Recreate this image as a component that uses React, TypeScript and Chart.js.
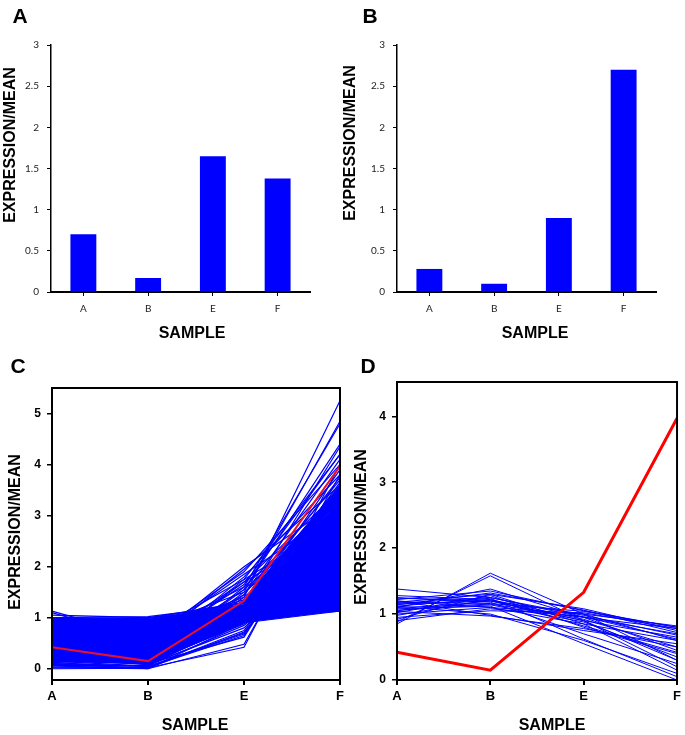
import React, { useEffect, useRef } from 'react';
import { Chart, registerables } from 'chart.js';

Chart.register(...registerables);

// ---------- data ----------
const SAMPLES = ['A', 'B', 'E', 'F'];
const BAR_A = [0.7, 0.17, 1.65, 1.38];
const BAR_B = [0.28, 0.1, 0.9, 2.7];
const RED_PROFILE = [0.42, 0.15, 1.33, 3.97];

// dense core of the panel C profiles (lower / upper edge of the solid band)
const C_BAND_BOTTOM = [0.15, 0.1, 0.9, 1.13];
const C_BAND_TOP = [1.0, 0.98, 1.25, 3.3];
// dense upper wedge between E and F
const C_BAND2_BOTTOM = [null, null, 1.25, 3.3];
const C_BAND2_TOP = [null, null, 1.35, 3.6];

// individual profiles of panel C (values at A, B, E, F)
const C_LINES = [
  [1.13, 0.6, 1.1, 1.6],
  [1.1, 0.55, 1.2, 2.0],
  [1.05, 1.0, 1.3, 2.3],
  [1.0, 1.02, 1.25, 1.8],
  [0.98, 1.0, 1.15, 1.4],
  [0.95, 0.99, 1.28, 2.7],
  [0.6, 0.5, 2.0, 3.3],
  [0.7, 0.45, 1.95, 3.6],
  [0.5, 0.6, 1.9, 4.0],
  [0.8, 0.55, 1.85, 3.1],
  [0.4, 0.3, 1.8, 3.8],
  [0.9, 0.7, 1.75, 2.9],
  [0.3, 0.35, 1.7, 3.5],
  [0.55, 0.4, 1.65, 4.2],
  [0.65, 0.65, 1.6, 3.4],
  [0.85, 0.8, 1.5, 3.0],
  [0.3, 0.15, 1.4, 5.25],
  [0.2, 0.1, 1.5, 4.85],
  [0.25, 0.12, 1.6, 4.8],
  [0.35, 0.2, 1.55, 4.4],
  [0.15, 0.1, 1.3, 4.35],
  [0.45, 0.25, 1.75, 4.2],
  [0.2, 0.15, 1.45, 4.1],
  [0.3, 0.2, 1.2, 3.9],
  [0.1, 0.05, 1.35, 3.75],
  [0.4, 0.18, 1.1, 3.65],
  [0.05, 0.02, 0.42, 4.0],
  [0.1, 0.0, 0.48, 3.8],
  [0.02, 0.03, 0.65, 3.5],
  [0.15, 0.05, 0.7, 3.2],
  [0.08, 0.02, 0.75, 3.0],
  [0.2, 0.08, 0.8, 2.6],
  [0.12, 0.04, 0.68, 3.3],
  [0.06, 0.06, 0.85, 2.4],
  [0.0, 0.01, 0.72, 2.8],
  [0.18, 0.1, 0.62, 3.6],
  [0.9, 0.8, 1.0, 1.13],
  [0.7, 0.6, 1.02, 1.15],
  [0.5, 0.5, 0.98, 1.2],
  [0.35, 0.28, 0.95, 1.25],
  [0.02, 0.0, 0.9, 2.1],
  [0.08, 0.05, 1.0, 1.7],
  [0.22, 0.12, 0.88, 2.2],
  [0.12, 0.2, 1.05, 1.9],
  [0.25, 0.08, 0.92, 2.5],
  [0.75, 0.72, 1.4, 3.0],
  [0.6, 0.85, 1.35, 2.6],
  [0.45, 0.55, 1.25, 3.45],
  [0.5, 0.35, 1.55, 3.2],
  [0.65, 0.5, 1.7, 2.8],
  [0.35, 0.45, 1.45, 3.7],
];

// individual profiles of panel D (values at A, B, E, F)
const D_LINES = [
  [1.38, 1.25, 0.95, 0.45],
  [0.85, 1.62, 1.0, 0.3],
  [0.88, 1.58, 0.9, 0.2],
  [1.22, 1.35, 1.05, 0.8],
  [1.18, 1.3, 1.08, 0.75],
  [1.15, 1.2, 1.0, 0.82],
  [1.1, 1.15, 0.95, 0.7],
  [1.05, 1.2, 0.9, 0.65],
  [1.0, 1.1, 0.85, 0.6],
  [0.95, 1.05, 1.02, 0.78],
  [1.2, 0.98, 0.75, 0.55],
  [1.12, 1.0, 0.6, 0.1],
  [1.08, 1.12, 0.55, 0.0],
  [1.25, 1.18, 0.7, 0.25],
  [1.02, 1.28, 0.8, 0.4],
  [0.98, 1.22, 0.92, 0.5],
  [1.14, 1.32, 1.06, 0.72],
  [1.16, 1.25, 0.98, 0.68],
  [1.06, 1.14, 0.88, 0.35],
  [1.2, 1.1, 1.0, 0.6],
  [0.92, 1.3, 0.85, 0.15],
  [1.1, 1.38, 0.95, 0.78],
  [1.28, 1.22, 0.82, 0.42],
  [1.04, 0.97, 0.78, 0.5],
  [1.18, 1.16, 1.04, 0.8],
  [0.9, 1.08, 0.96, 0.62],
  [1.12, 1.24, 0.62, 0.05],
  [1.24, 1.2, 0.9, 0.3],
];

const BLUE = '#0000ff';
const ARIAL = '"Liberation Sans", Arial, sans-serif';
const SMALL_FONT = 'Lato, "Open Sans", sans-serif';

// ---------- helpers ----------
const boxPlugin = {
  id: 'plotBox',
  afterDraw(chart: any) {
    const { ctx, chartArea } = chart;
    ctx.save();
    ctx.strokeStyle = '#000';
    ctx.lineWidth = 2;
    ctx.strokeRect(chartArea.left, chartArea.top, chartArea.right - chartArea.left, chartArea.bottom - chartArea.top);
    ctx.restore();
  },
};

function barConfig(values: number[], padRight: number, axisWidth: number) {
  return {
    type: 'bar',
    data: {
      labels: SAMPLES,
      datasets: [
        {
          data: values,
          backgroundColor: BLUE,
          borderWidth: 0,
          barPercentage: 0.4,
          categoryPercentage: 1,
        },
      ],
    },
    options: {
      animation: false,
      responsive: false,
      devicePixelRatio: 1,
      layout: { padding: { left: 0, top: 45, right: padRight, bottom: 0 } },
      plugins: { legend: { display: false }, tooltip: { enabled: false } },
      scales: {
        x: {
          offset: true,
          grid: { display: true, offset: false, drawOnChartArea: false, tickLength: 4, color: '#000', lineWidth: 1 },
          border: { display: true, color: '#000', width: 2 },
          ticks: { font: { family: SMALL_FONT, size: 10 }, color: '#222', padding: 7, maxRotation: 0, autoSkip: false },
          afterFit: (s: any) => {
            s.height = 53;
          },
        },
        y: {
          min: 0,
          max: 3,
          grid: { display: true, drawOnChartArea: false, tickLength: 4, color: '#000', lineWidth: 1 },
          border: { display: true, color: '#000', width: 1.5 },
          ticks: {
            stepSize: 0.5,
            font: { family: SMALL_FONT, size: 10 },
            color: '#222',
            padding: 8,
            callback: (v: any) => String(Math.round(Number(v) * 10) / 10),
          },
          afterFit: (s: any) => {
            s.width = axisWidth;
          },
        },
      },
    },
  };
}

function lineDatasets(lines: number[][], width: number) {
  return lines.map((vals) => ({
    data: vals,
    borderColor: BLUE,
    borderWidth: width,
    pointRadius: 0,
    tension: 0,
    fill: false,
    order: 1,
  }));
}

function bandDataset(values: (number | null)[], fill: any) {
  return {
    data: values,
    borderColor: BLUE,
    borderWidth: 1,
    backgroundColor: BLUE,
    pointRadius: 0,
    tension: 0,
    spanGaps: false,
    fill,
    order: 2,
  };
}

function profileConfig(
  datasets: any[],
  yMin: number,
  yMax: number,
  padTop: number,
  padRight: number,
  axisWidth: number
) {
  return {
    type: 'line',
    data: { labels: SAMPLES, datasets },
    options: {
      animation: false,
      responsive: false,
      devicePixelRatio: 1,
      layout: { padding: { left: 0, top: padTop, right: padRight, bottom: 0 } },
      plugins: { legend: { display: false }, tooltip: { enabled: false } },
      scales: {
        x: {
          type: 'category',
          offset: false,
          grid: { display: true, drawOnChartArea: false, tickLength: 5, color: '#000', lineWidth: 2 },
          border: { display: true, color: '#000', width: 2 },
          ticks: {
            font: { family: ARIAL, size: 13, weight: 'bold' },
            color: '#000',
            padding: 4,
            maxRotation: 0,
            autoSkip: false,
          },
          afterFit: (s: any) => {
            s.height = 55;
          },
        },
        y: {
          min: yMin,
          max: yMax,
          grid: { display: true, drawOnChartArea: false, tickLength: 5, color: '#000', lineWidth: 1.5 },
          border: { display: true, color: '#000', width: 2 },
          ticks: {
            stepSize: 1,
            includeBounds: false,
            font: { family: ARIAL, size: 12, weight: 'bold' },
            color: '#000',
            padding: 6,
          },
          afterFit: (s: any) => {
            s.width = axisWidth;
          },
        },
      },
    },
    plugins: [boxPlugin],
  };
}

function ChartCanvas({ config, left, top, width, height }: any) {
  const ref = useRef<HTMLCanvasElement>(null);
  useEffect(() => {
    if (!ref.current) return;
    const chart = new Chart(ref.current, config);
    return () => chart.destroy();
  }, [config]);
  return (
    <canvas
      ref={ref}
      width={width}
      height={height}
      style={{ position: 'absolute', left, top, width, height }}
    />
  );
}

function Label({ text, x, y, size, rotate, weight }: any) {
  return (
    <div
      style={{
        position: 'absolute',
        left: x,
        top: y,
        transform: `translate(-50%, -50%)${rotate ? ' rotate(-90deg)' : ''}`,
        font: `${weight || 'bold'} ${size}px ${ARIAL}`,
        lineHeight: 1,
        whiteSpace: 'nowrap',
        color: '#000',
      }}
    >
      {text}
    </div>
  );
}

const configA = barConfig(BAR_A, 30, 51);
const configB = barConfig(BAR_B, 29, 57);

const configC = profileConfig(
  [
    {
      data: RED_PROFILE,
      borderColor: '#e8102a',
      borderWidth: 2,
      pointRadius: 0,
      tension: 0,
      fill: false,
      order: 0,
    },
    ...lineDatasets(C_LINES, 1.2),
    bandDataset(C_BAND_BOTTOM, false),
    bandDataset(C_BAND_TOP, '-1'),
    bandDataset(C_BAND2_BOTTOM, false),
    bandDataset(C_BAND2_TOP, '-1'),
  ],
  -0.22,
  5.5,
  23,
  8,
  52
);

const configD = profileConfig(
  [
    {
      data: RED_PROFILE,
      borderColor: '#ff0000',
      borderWidth: 3,
      pointRadius: 0,
      tension: 0,
      fill: false,
      order: 0,
    },
    ...lineDatasets(D_LINES, 1),
  ],
  0,
  4.52,
  17,
  6,
  57
);

export default function App() {
  return (
    <div
      style={{
        position: 'absolute',
        left: 0,
        top: 0,
        width: 685,
        height: 735,
        background: '#fff',
        overflow: 'hidden',
      }}
    >
      <ChartCanvas config={configA} left={0} top={0} width={340} height={345} />
      <ChartCanvas config={configB} left={340} top={0} width={345} height={345} />
      <ChartCanvas config={configC} left={0} top={365} width={348} height={370} />
      <ChartCanvas config={configD} left={340} top={365} width={345} height={370} />

      <Label text="A" x={20} y={15} size={21} />
      <Label text="B" x={370} y={15} size={21} />
      <Label text="C" x={18} y={365} size={21} />
      <Label text="D" x={368} y={365} size={21} />

      <Label text="EXPRESSION/MEAN" x={10} y={145} size={16} rotate />
      <Label text="SAMPLE" x={192} y={333} size={16} />
      <Label text="EXPRESSION/MEAN" x={350} y={143} size={16} rotate />
      <Label text="SAMPLE" x={535} y={333} size={16} />
      <Label text="EXPRESSION/MEAN" x={15} y={532} size={16} rotate />
      <Label text="SAMPLE" x={195} y={725} size={16} />
      <Label text="EXPRESSION/MEAN" x={361} y={527} size={16} rotate />
      <Label text="SAMPLE" x={552} y={725} size={16} />
    </div>
  );
}
